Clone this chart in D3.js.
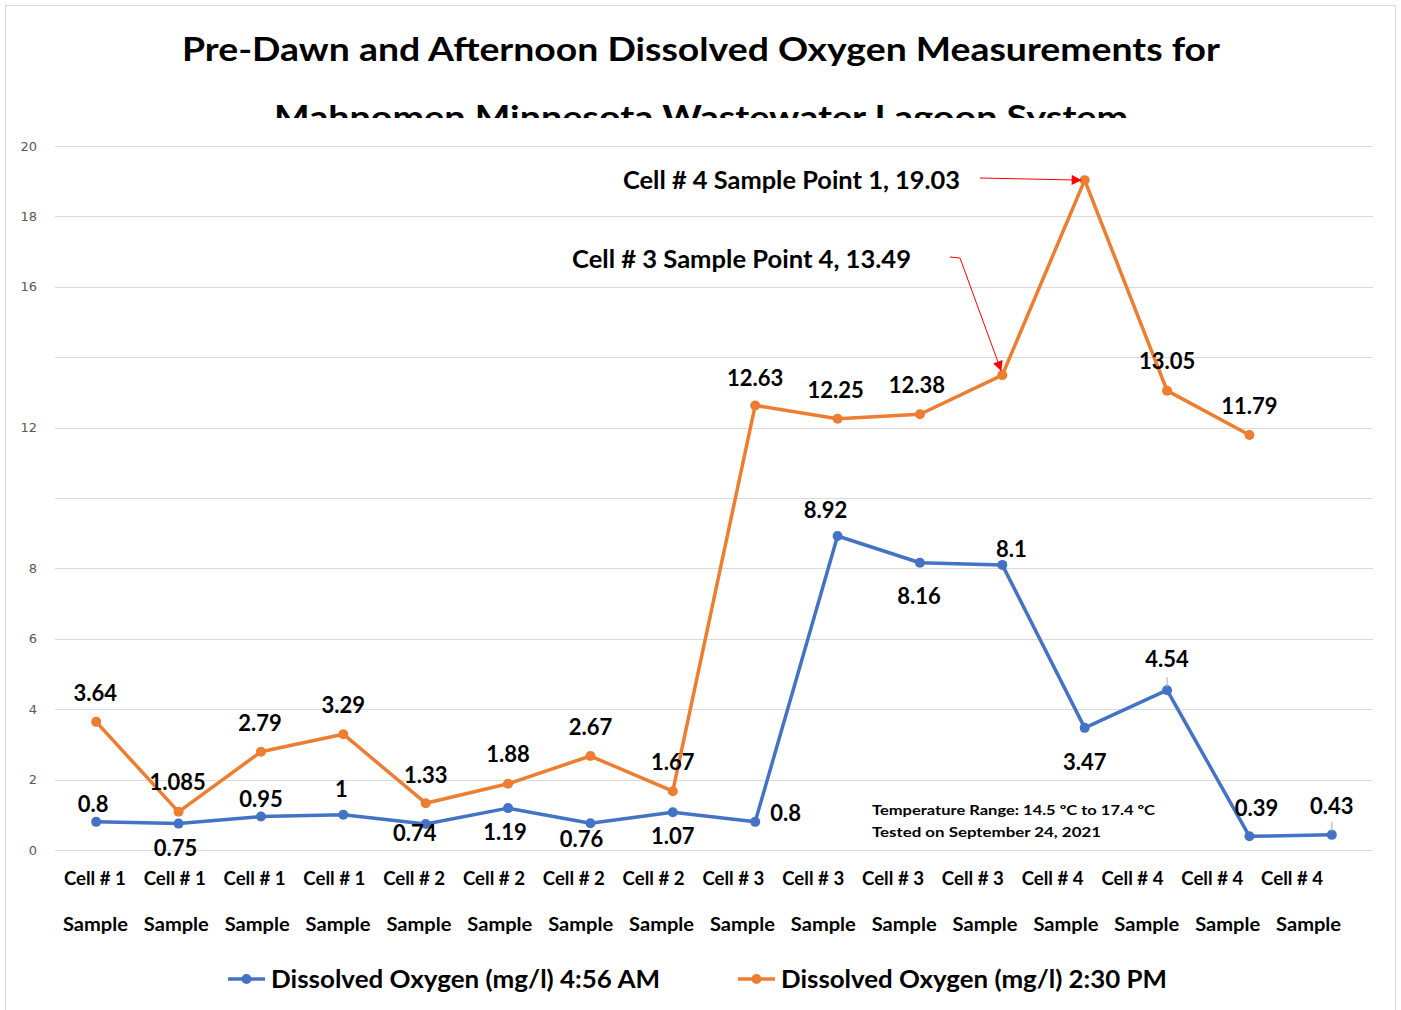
<!DOCTYPE html>
<html>
<head>
<meta charset="utf-8">
<script src="https://cdn.jsdelivr.net/npm/d3@7"></script>
<style>
  body { margin: 0; background: #fff; }
  svg { display: block; }
  .grid { stroke: #d9d9d9; stroke-width: 1; }
  .ytick { font-family: "DejaVu Sans", Verdana, sans-serif; font-size: 13px; fill: #595959; }
  .cat { font-family: Lato, "Open Sans", sans-serif; font-weight: bold; font-size: 18px; fill: #000; }
  .lbl { font-family: Lato, "Open Sans", sans-serif; font-weight: bold; font-size: 22px; fill: #000; }
  .big { font-family: Lato, "Open Sans", sans-serif; font-weight: bold; fill: #000; }
</style>
</head>
<body>
<script>
var categories = ["Cell # 1", "Cell # 1", "Cell # 1", "Cell # 1",
                  "Cell # 2", "Cell # 2", "Cell # 2", "Cell # 2",
                  "Cell # 3", "Cell # 3", "Cell # 3", "Cell # 3",
                  "Cell # 4", "Cell # 4", "Cell # 4", "Cell # 4"];
var subLabel = "Sample";

var morning = [0.8, 0.75, 0.95, 1, 0.74, 1.19, 0.76, 1.07, 0.8, 8.92, 8.16, 8.1, 3.47, 4.54, 0.39, 0.43];
var afternoon = [3.64, 1.085, 2.79, 3.29, 1.33, 1.88, 2.67, 1.67, 12.63, 12.25, 12.38, 13.49, 19.03, 13.05, 11.79];

var yTickLabels = [0, 2, 4, 6, 8, 12, 16, 18, 20];
var gridValues = [0, 2, 4, 6, 8, 10, 12, 14, 16, 18, 20];

// data label offsets from each point (baseline), null = no label
var morningDx = [-3, -3, 0, -2, -11, -3, -9, 0, 15, -12, -1, 9, 0, 0, 7, 0];
var morningDy = [-10, 32, -10, -18, 17, 32, 24, 32, -1, -18, 41, -8, 42, -23, -20, -21];
var afternoonDx = [-1, -1, -1, 0, 0, 0, 0, 0, 0, -2, -3, null, null, 0, 0];
var afternoonDy = [-21, -22, -21, -21, -20, -22, -21, -21, -19, -21, -21, null, null, -22, -21];

var W = 1401, H = 1010;
var svg = d3.select("body").append("svg").attr("width", W).attr("height", H);

// chart border
svg.append("rect").attr("x", 5.5).attr("y", 5.5).attr("width", 1390).attr("height", 1010)
  .attr("fill", "#fff").attr("stroke", "#d9d9d9");

var x = d3.scaleBand().domain(d3.range(categories.length)).range([55, 1373]);
var y = d3.scaleLinear().domain([0, 20]).range([850, 146]);
var cx = function (i) { return x(i) + x.bandwidth() / 2; };
// the category text rows are spaced a little tighter than the plot
var xCell = d3.scaleBand().domain(d3.range(categories.length)).range([55, 1332]);
var xSample = d3.scaleBand().domain(d3.range(categories.length)).range([55, 1349]);

// title (second line is clipped like the original)
var defs = svg.append("defs");
defs.append("clipPath").attr("id", "tclip")
  .append("rect").attr("x", 0).attr("y", 0).attr("width", W).attr("height", 118);
svg.append("text").attr("class", "big").attr("x", 701).attr("y", 61)
  .attr("text-anchor", "middle").style("font-size", "32px")
  .attr("textLength", 1038).attr("lengthAdjust", "spacingAndGlyphs")
  .text("Pre-Dawn and Afternoon Dissolved Oxygen Measurements for");
svg.append("text").attr("class", "big").attr("x", 701).attr("y", 129)
  .attr("clip-path", "url(#tclip)")
  .attr("text-anchor", "middle").style("font-size", "32px")
  .attr("textLength", 854).attr("lengthAdjust", "spacingAndGlyphs")
  .text("Mahnomen Minnesota Wastewater Lagoon System");

// gridlines
svg.selectAll(".grid").data(gridValues).enter().append("line")
  .attr("class", "grid")
  .attr("x1", 55).attr("x2", 1373)
  .attr("y1", function (d) { return Math.round(y(d)) + 0.5; })
  .attr("y2", function (d) { return Math.round(y(d)) + 0.5; });

svg.selectAll(".ytick").data(yTickLabels).enter().append("text")
  .attr("class", "ytick")
  .attr("x", 37).attr("y", function (d) { return y(d); })
  .attr("dy", "0.35em").attr("text-anchor", "end")
  .text(function (d) { return d; });

// category labels
svg.selectAll(".cat1").data(categories).enter().append("text")
  .attr("class", "cat").attr("x", function (d, i) { return xCell(i) + xCell.bandwidth() / 2; }).attr("y", 885)
  .attr("text-anchor", "middle").attr("textLength", 62).attr("lengthAdjust", "spacingAndGlyphs")
  .text(function (d) { return d; });
svg.selectAll(".cat2").data(categories).enter().append("text")
  .attr("class", "cat").attr("x", function (d, i) { return xSample(i) + xSample.bandwidth() / 2; }).attr("y", 931)
  .attr("text-anchor", "middle").attr("textLength", 65).attr("lengthAdjust", "spacingAndGlyphs")
  .text(subLabel);

var line = d3.line().x(function (d, i) { return cx(i); }).y(function (d) { return y(d); });

function drawSeries(values, color) {
  svg.append("path").datum(values).attr("d", line)
    .attr("fill", "none").attr("stroke", color).attr("stroke-width", 3.5)
    .attr("stroke-linejoin", "round").attr("stroke-linecap", "round");
  svg.selectAll(null).data(values).enter().append("circle")
    .attr("cx", function (d, i) { return cx(i); }).attr("cy", function (d) { return y(d); })
    .attr("r", 5).attr("fill", color);
}

function drawLabels(values, dxs, dys) {
  values.forEach(function (v, i) {
    if (dys[i] === null) return;
    var right = dxs[i] > 12;
    svg.append("text").attr("class", "lbl")
      .attr("x", cx(i) + dxs[i]).attr("y", y(v) + dys[i])
      .attr("text-anchor", right ? "start" : "middle")
      .text(v);
  });
}

drawSeries(afternoon, "#ED7D31");
drawSeries(morning, "#4472C4");
drawLabels(afternoon, afternoonDx, afternoonDy);
drawLabels(morning, morningDx, morningDy);

// small leader lines on two labels
[13, 15].forEach(function (i) {
  svg.append("line").attr("x1", cx(i)).attr("x2", cx(i))
    .attr("y1", y(morning[i]) - 13).attr("y2", y(morning[i]) - 3)
    .attr("stroke", "#a6a6a6").attr("stroke-width", 1);
});

// annotations
defs.append("marker").attr("id", "arrow")
  .attr("viewBox", "0 0 10 10").attr("refX", 10).attr("refY", 5)
  .attr("markerUnits", "userSpaceOnUse")
  .attr("markerWidth", 11).attr("markerHeight", 10).attr("orient", "auto")
  .append("path").attr("d", "M0,0L10,5L0,10Z").attr("fill", "#ff0000");

svg.append("text").attr("class", "big").style("font-size", "24px")
  .attr("x", 623).attr("y", 189).attr("textLength", 337).attr("lengthAdjust", "spacingAndGlyphs")
  .text("Cell # 4 Sample Point 1, 19.03");
svg.append("path")
  .attr("d", "M980,178L" + (cx(12) - 3) + "," + y(afternoon[12]))
  .attr("stroke", "#ff0000").attr("stroke-width", 1).attr("fill", "none")
  .attr("marker-end", "url(#arrow)");

svg.append("text").attr("class", "big").style("font-size", "24px")
  .attr("x", 572).attr("y", 268).attr("textLength", 339).attr("lengthAdjust", "spacingAndGlyphs")
  .text("Cell # 3 Sample Point 4, 13.49");
svg.append("path")
  .attr("d", "M950,257L960,258L" + (cx(11) - 1) + "," + (y(afternoon[11]) - 4))
  .attr("stroke", "#ff0000").attr("stroke-width", 1).attr("fill", "none")
  .attr("marker-end", "url(#arrow)");

// temperature note
svg.append("text").attr("class", "big").style("font-size", "14px")
  .attr("x", 872).attr("y", 815).attr("textLength", 283).attr("lengthAdjust", "spacingAndGlyphs")
  .text("Temperature Range: 14.5 \u00BAC to 17.4 \u00BAC");
svg.append("text").attr("class", "big").style("font-size", "14px")
  .attr("x", 872).attr("y", 837).attr("textLength", 229).attr("lengthAdjust", "spacingAndGlyphs")
  .text("Tested on September 24, 2021");

// legend
var legend = [
  { name: "Dissolved Oxygen (mg/l) 4:56 AM", color: "#4472C4", x: 228, len: 389 },
  { name: "Dissolved Oxygen (mg/l) 2:30 PM", color: "#ED7D31", x: 738, len: 386 }
];
legend.forEach(function (l) {
  var g = svg.append("g").attr("transform", "translate(" + l.x + ",979)");
  g.append("line").attr("x1", 0).attr("x2", 37).attr("stroke", l.color).attr("stroke-width", 3.5);
  g.append("circle").attr("cx", 18.5).attr("r", 5).attr("fill", l.color);
  g.append("text").attr("class", "big").style("font-size", "25px")
    .attr("x", 43).attr("y", 9).attr("textLength", l.len).attr("lengthAdjust", "spacingAndGlyphs")
    .text(l.name);
});
</script>
</body>
</html>
